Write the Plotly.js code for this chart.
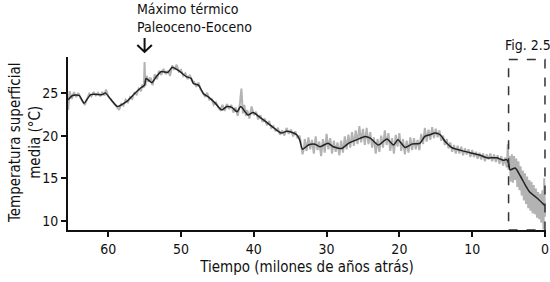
<!DOCTYPE html>
<html><head><meta charset="utf-8">
<script src="https://cdn.plot.ly/plotly-3.0.1.min.js"></script>
<style>html,body{margin:0;padding:0;background:#fff}#chart{width:550px;height:282px}</style>
</head><body><div id="chart"></div>
<script>
// Smoothed record (black)
const smoothX = [65.5,64.9,64.0,63.3,62.4,60.8,60.4,59.7,58.7,58.2,57.3,56.4,55.5,55.0,54.8,54.0,53.4,52.7,51.8,51.2,50.7,50.0,49.3,48.6,48.3,47.6,46.9,46.2,45.3,44.4,43.7,43.0,42.3,41.8,41.2,40.8,40.1,39.1,38.0,37.1,36.2,35.5,34.8,34.1,33.7,33.3,32.5,31.6,30.9,29.8,29.1,27.9,27.0,25.9,24.7,24.0,22.9,21.7,20.8,20.2,19.2,18.3,17.2,16.5,15.8,15.1,14.4,13.7,12.8,11.7,10.3,8.9,8.0,6.6,5.7,5.3,5.0,4.8,4.1,3.4,2.7,2.1,1.1,0.0];
const smoothY = [24.2,24.7,24.7,23.8,24.8,24.8,25.0,24.3,23.4,23.6,24.1,24.9,25.6,25.9,26.7,26.2,26.9,27.5,27.4,28.0,27.8,27.4,26.9,26.7,26.1,25.9,24.9,24.5,23.8,23.0,23.4,23.3,22.8,23.4,22.8,22.4,22.7,22.1,21.4,20.8,20.3,20.5,20.4,20.1,19.5,18.4,18.9,19.0,18.7,19.1,18.7,18.5,19.1,19.5,19.9,19.7,18.9,19.6,18.9,19.5,18.6,19.0,19.1,19.9,20.1,20.3,20.1,19.3,18.6,18.3,18.0,17.7,17.4,17.4,17.1,17.2,16.8,16.0,16.2,15.3,14.2,13.4,12.7,11.8];

// Raw record (grey)
const rawX = [65.5,65.3,65.0,64.7,64.4,64.1,63.8,63.5,63.2,62.9,62.6,62.3,62.0,61.7,61.4,61.1,60.8,60.5,60.3,60.0,59.7,59.4,59.1,58.8,58.5,58.2,57.9,57.6,57.3,57.0,56.7,56.4,56.1,55.8,55.5,55.3,55.1,55.0,54.9,54.7,54.5,54.2,53.9,53.6,53.3,53.0,52.7,52.4,52.1,51.8,51.5,51.2,50.9,50.6,50.3,50.0,49.7,49.4,49.1,48.8,48.5,48.2,47.9,47.6,47.3,47.0,46.7,46.4,46.1,45.8,45.5,45.2,44.9,44.6,44.3,44.0,43.7,43.4,43.1,42.8,42.5,42.2,41.9,41.7,41.5,41.3,41.1,40.9,40.6,40.3,40.0,39.7,39.4,39.1,38.8,38.5,38.2,37.9,37.6,37.3,37.0,36.7,36.4,36.1,35.8,35.5,35.2,34.9,34.6,34.3,34.0,33.7,33.5,33.3,33.1,
33.0,32.75,32.5,32.25,32.0,31.75,31.5,31.25,31.0,30.75,30.5,30.25,30.0,29.75,29.5,29.25,29.0,28.75,28.5,28.25,28.0,27.75,27.5,27.25,27.0,26.75,26.5,26.25,26.0,25.75,25.5,25.25,25.0,24.75,24.5,24.25,24.0,23.75,23.5,23.25,23.0,22.75,22.5,22.25,22.0,21.75,21.5,21.25,21.0,20.75,20.5,20.25,20.0,19.75,19.5,19.25,19.0,18.75,18.5,18.25,18.0,17.75,17.5,17.25,17.0,16.75,16.5,16.25,16.0,15.75,15.5,15.25,15.0,14.75,14.5,14.25,14.0,13.75,13.5,13.25,13.0,12.75,12.5,12.25,12.0,11.75,11.5,11.25,11.0,10.75,10.5,10.25,10.0,9.75,9.5,9.25,9.0,8.75,8.5,8.25,8.0,7.75,7.5,7.25,7.0,6.75,6.5,6.25,6.0,5.75,5.5,5.25,5.1,5.0,4.85,4.7,4.55,4.4,4.25,4.1,3.95,3.8,3.65,3.5,3.35,3.2,3.05,2.9,2.75,2.6,2.45,2.3,2.15,2.0,1.85,1.7,1.55,1.4,1.25,1.1,0.95,0.8,0.65,0.5,0.35,0.2,0.1,0.0];
const rawY = [23.0,25.2,24.3,25.1,24.5,25.0,24.4,24.0,23.6,24.3,24.9,24.6,25.1,24.7,25.0,24.6,25.1,24.7,25.4,24.6,24.3,23.9,23.6,23.3,23.0,23.7,23.5,24.2,23.9,24.5,24.3,25.0,24.8,25.5,25.2,26.0,25.6,28.6,25.8,27.0,26.3,26.8,25.9,27.2,26.6,27.6,27.1,27.8,27.2,27.6,27.0,28.2,27.7,28.3,27.5,27.7,27.0,27.3,26.6,27.1,26.4,26.3,25.7,26.2,25.4,25.0,24.6,25.0,24.2,24.3,23.6,23.9,23.3,23.0,23.6,22.9,23.7,23.1,23.6,22.7,23.3,22.3,23.8,25.5,22.6,23.6,22.3,23.0,22.0,23.4,22.4,22.8,21.9,22.4,21.6,22.0,21.2,21.7,20.9,21.1,20.5,20.9,20.1,20.6,20.0,20.9,20.2,20.7,19.9,20.5,19.7,20.0,18.9,17.8,18.6,
19.6,18.2,19.8,18.4,19.5,17.9,19.9,18.3,19.3,17.6,19.6,18.0,20.2,18.4,19.7,17.9,19.4,18.1,19.2,17.7,19.4,18.0,19.9,18.4,20.1,18.6,20.4,18.8,20.6,19.0,21.1,19.2,20.8,18.9,20.9,19.0,20.4,18.6,19.8,17.9,19.6,18.1,20.0,18.6,20.6,18.9,20.3,18.2,19.7,17.9,20.1,18.7,20.3,18.2,19.6,17.8,19.4,18.0,19.8,18.3,19.7,18.4,19.5,18.3,20.2,19.0,20.9,19.3,20.7,19.5,21.0,19.7,20.8,19.8,20.6,19.4,20.0,18.9,19.6,18.5,19.2,18.1,18.9,17.9,18.8,17.9,18.7,17.7,18.5,17.8,18.4,17.5,18.3,17.5,18.1,17.3,18.0,17.2,17.9,17.0,17.8,17.2,17.9,17.0,17.8,16.9,17.7,16.7,17.6,16.5,17.4,16.3,19.0,16.0,17.6,14.6,17.8,14.5,17.6,14.8,17.3,14.0,17.0,13.6,16.4,13.0,15.9,12.4,15.6,12.0,15.2,11.5,14.8,11.2,14.6,10.9,14.2,10.8,13.8,10.4,13.4,10.2,13.2,9.8,13.6,9.0,15.0,10.5];

const xTicks = [60,50,40,30,20,10,0];
const yTicks = [10,15,20,25];

const FONT = "Humor Sans, xkcd Script, Liberation Sans Narrow, DejaVu Sans Condensed, sans-serif";

const traces = [
  {x: rawX, y: rawY, type: 'scatter', mode: 'lines', line: {color: '#b3b3b3', width: 2}, hoverinfo: 'skip'},
  {x: smoothX, y: smoothY, type: 'scatter', mode: 'lines', line: {color: '#222', width: 1.5, shape: 'spline', smoothing: 0.6}, hoverinfo: 'skip'}
];

const layout = {
  width: 550, height: 282,
  margin: {l: 68, r: 4, t: 57, b: 52},
  paper_bgcolor: '#fff', plot_bgcolor: '#fff',
  showlegend: false,
  font: {family: FONT, size: 14, color: '#111'},
  xaxis: {
    range: [65.52, -0.14], tickvals: xTicks, ticktext: xTicks.map(String),
    showgrid: false, zeroline: false, showline: true, linecolor: '#111', linewidth: 2,
    ticks: 'outside', ticklen: 5, tickwidth: 2, tickcolor: '#111',
    tickfont: {family: FONT, size: 14},
    title: {text: 'Tiempo (milones de años atrás)', font: {family: FONT, size: 15}, standoff: 6}
  },
  yaxis: {
    range: [8.95, 29.2], tickvals: yTicks, ticktext: yTicks.map(String),
    showgrid: false, zeroline: false, showline: true, linecolor: '#111', linewidth: 2,
    ticks: 'outside', ticklen: 5, tickwidth: 2, tickcolor: '#111',
    tickfont: {family: FONT, size: 14}
  },
  shapes: [
    {type: 'rect', xref: 'x', yref: 'y', x0: 5, x1: 0, y0: 8.95, y1: 28.9,
     line: {color: '#333', width: 1.5, dash: 'dash'}, fillcolor: 'rgba(0,0,0,0)'},
    {type: 'path', xref: 'x', yref: 'paper',
     path: 'M 55,1.11 L 55,1.029 M 56,1.069 L 55,1.029 L 54,1.069',
     line: {color: '#111', width: 2}}
  ],
  annotations: [
    {xref: 'paper', yref: 'paper', x: -0.091, y: 0.5, xanchor: 'center', yanchor: 'middle',
     textangle: -90, showarrow: false, text: 'Temperatura superficial<br>media (°C)',
     font: {family: FONT, size: 15}},
    {xref: 'x', yref: 'paper', x: 56.3, y: 1.225, xanchor: 'left', yanchor: 'middle', align: 'left',
     showarrow: false, text: 'Máximo térmico<br>Paleoceno-Eoceno', font: {family: FONT, size: 14}},
    {xref: 'x', yref: 'paper', x: 2.4, y: 1.069, xanchor: 'center', yanchor: 'middle',
     showarrow: false, text: 'Fig. 2.5', font: {family: FONT, size: 14}}
  ]
};

Plotly.newPlot('chart', traces, layout, {staticPlot: true, displayModeBar: false});
</script>
</body></html>
